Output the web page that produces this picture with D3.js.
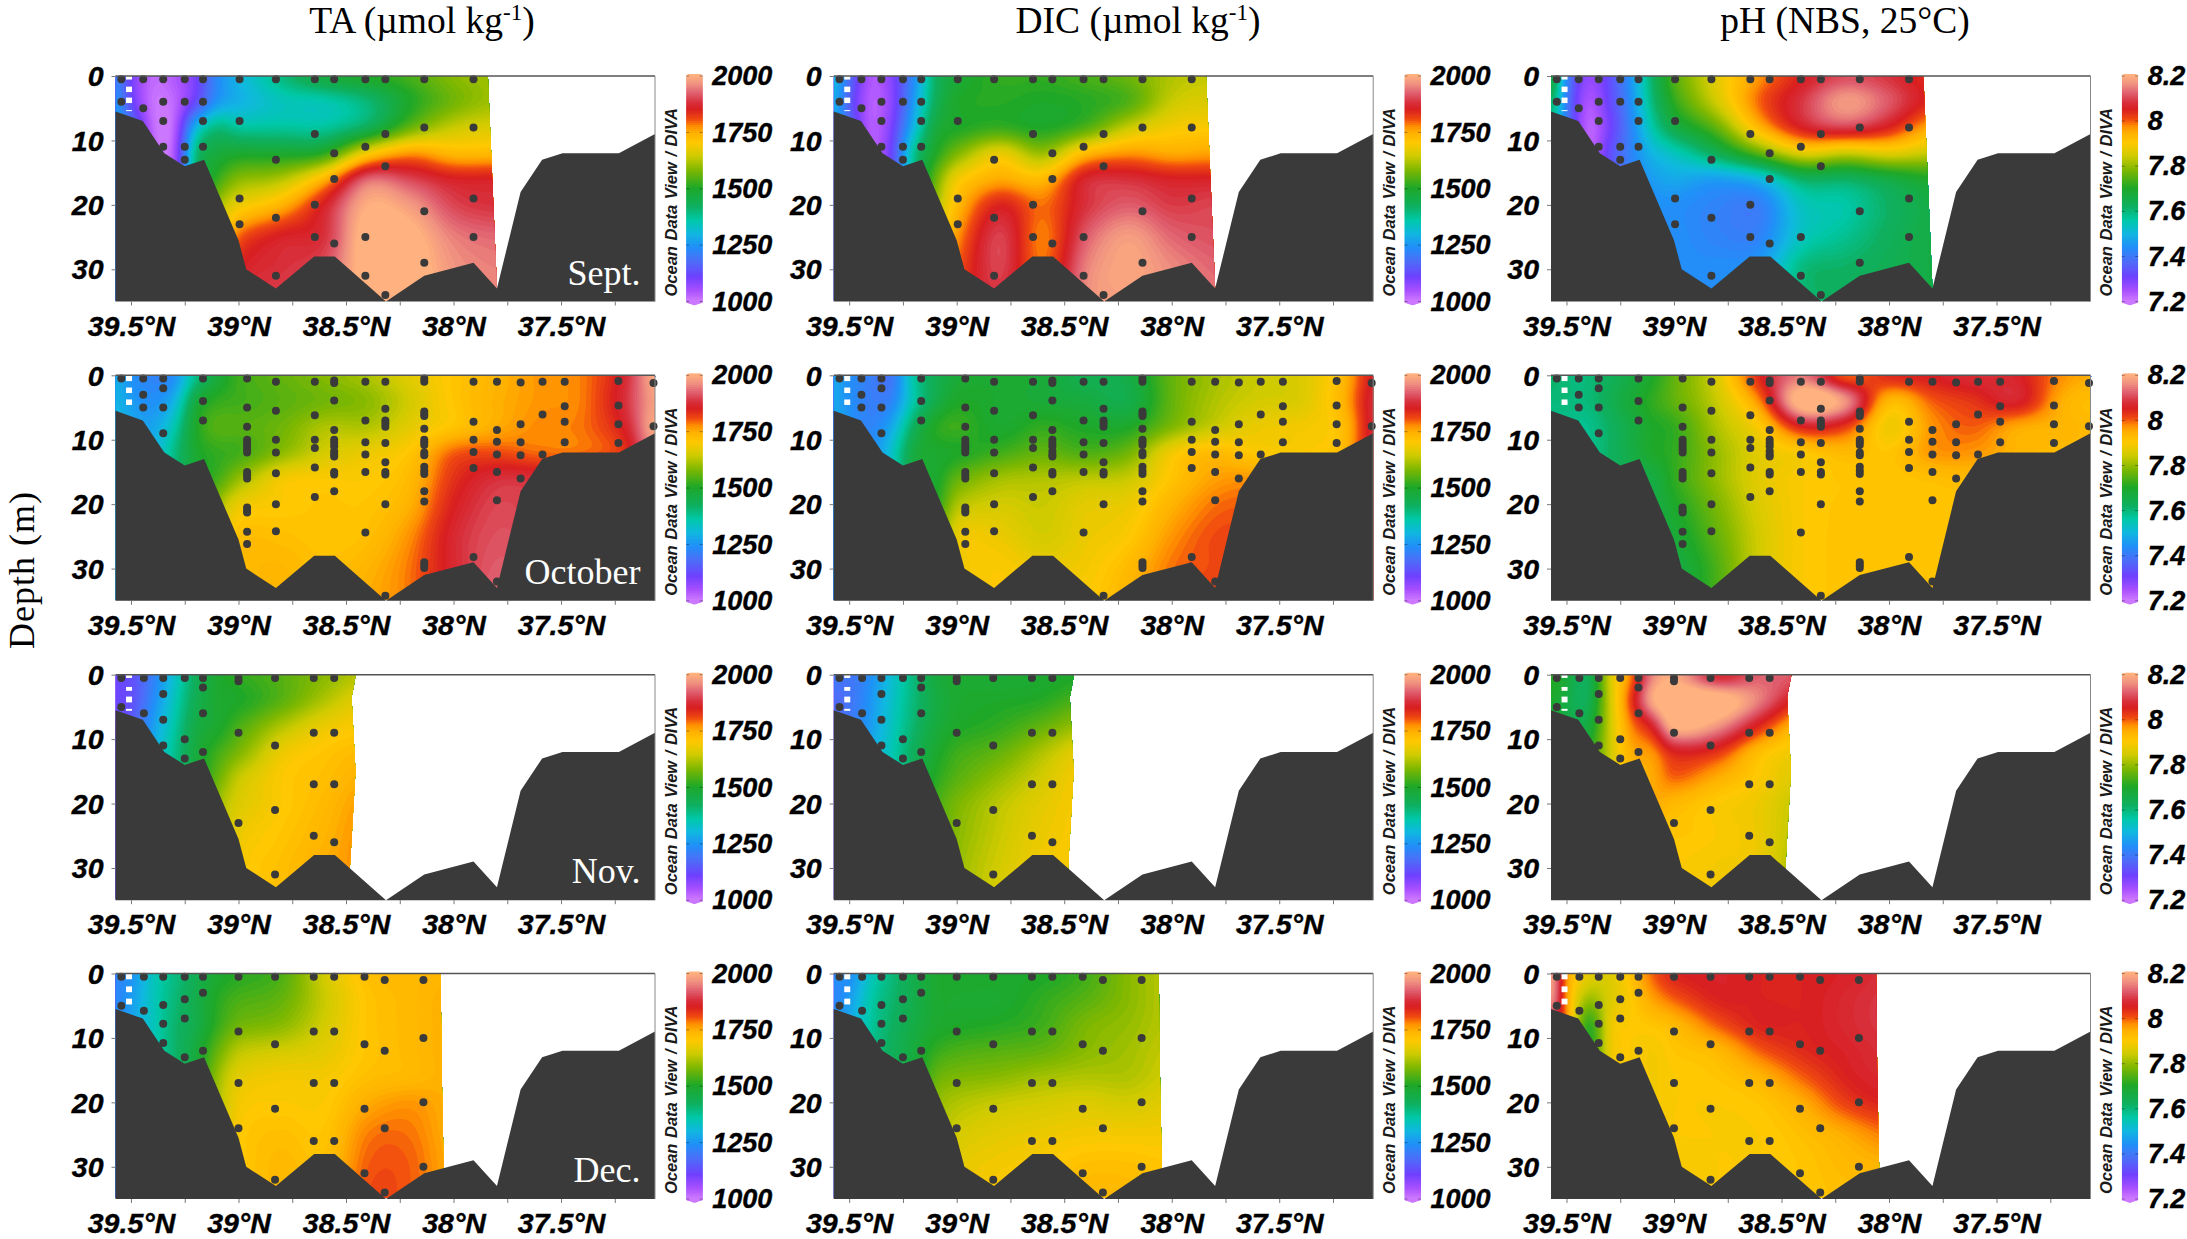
<!DOCTYPE html>
<html>
<head>
<meta charset="utf-8">
<script src="https://cdn.jsdelivr.net/npm/d3@7"></script>
<style>
  html, body { margin: 0; padding: 0; background: #fff; }
  svg { display: block; }
</style>
</head>
<body>
<div id="chart"></div>
<script>
// grid the sections were read on (latitude, depth)
const gridLat = [39.57, 39.5, 39.4, 39.3, 39.2, 39.1, 39.0, 38.8, 38.6, 38.4, 38.2, 38.0, 37.8, 37.6, 37.4, 37.2, 37.05];
const gridDepth = [0, 4, 8, 12, 16, 20, 25, 30, 35];

const months = ['Sept.', 'October', 'Nov.', 'Dec.'];
const titles = ['TA', 'DIC', 'pH'];
const alkTicks = [1000, 1250, 1500, 1750, 2000];
const phTicks = [7.2, 7.4, 7.6, 7.8, 8, 8.2];
const depthTicks = [0, 10, 20, 30];
const latTicks = [39.5, 39.25, 39, 38.75, 38.5, 38.25, 38, 37.75, 37.5, 37.25];

// sea floor
const floorLat = [39.572, 39.445, 39.345, 39.25, 39.16, 39.0, 38.964, 38.826, 38.648, 38.552, 38.314, 38.136, 37.907, 37.798, 37.688, 37.588, 37.493, 37.231, 37.063];
const floorDepth = [5.5, 7, 12, 14, 13, 25.5, 30, 33, 28, 28, 35, 31, 29, 33, 18, 13, 12, 12, 9];

// right hand limit of the gridded section, [lat, depth]
const sepEdge = [[37.84, 0], [37.83, 8], [37.798, 33], [37.798, 35]];
const octEdge = [[37.0, 0], [37.0, 35]];
const novEdge = [[38.454, 0], [38.474, 3.5], [38.456, 15], [38.482, 30], [38.482, 35]];
const decEdge = [[38.06, 0], [38.055, 15], [38.046, 30], [38.046, 35]];

// stations, [lat, depths]
const sepStations = [
  [39.545, [0.5, 4]], [39.443, [0.5, 5]], [39.35, [0.5, 4, 7, 11]], [39.25, [0.5, 4, 11, 13]],
  [39.165, [0.5, 4, 7, 11]], [38.995, [0.5, 7, 19, 23]], [38.826, [0.5, 13, 22, 31]],
  [38.645, [0.5, 9, 20, 25]], [38.555, [0.5, 12, 16, 26]], [38.41, [0.5, 11, 25, 31]],
  [38.317, [0.5, 9, 14, 34]], [38.136, [0.5, 8, 21, 29]], [37.907, [0.5, 8, 19, 25]]
];
const octStations = [
  [39.545, [0.5]], [39.443, [0.5, 3, 5]], [39.35, [0.5, 2, 5, 9]], [39.165, [0.5, 4, 7]],
  [38.96, [0.5, 5, 8, 10, 10.5, 11, 11.5, 12, 15, 15.5, 16, 20.5, 21, 21.3, 24.3, 26.2]],
  [38.826, [1, 5.5, 10, 12, 15.2, 20, 24.2]], [38.645, [1, 6.2, 10, 11.3, 14.3, 18.9]],
  [38.555, [0.8, 1.2, 3.9, 8.5, 10, 10.5, 11, 11.8, 12.3, 12.6, 15, 15.4, 18]],
  [38.41, [1, 7, 10.4, 12.3, 15, 24.4]],
  [38.317, [1, 5.2, 7, 7.5, 8, 10.5, 13.5, 15, 15.4, 20, 34.2]],
  [38.136, [0.5, 1, 5.6, 6, 6.3, 8.3, 10, 10.4, 10.8, 12, 12.4, 14.2, 14.8, 15.3, 18, 19.6, 29, 29.5, 29.9]],
  [37.907, [1, 7.2, 10, 11.9, 14.4, 28.2]], [37.798, [1, 8.5, 10.3, 12.3, 15, 19.4, 32]],
  [37.688, [1.1, 7.6, 10.4, 12.4, 16]], [37.586, [1, 6.1, 12.3]], [37.483, [1, 4.8, 7.2, 10.4]],
  [37.233, [0.9, 4.7, 7.6, 10.5]], [37.07, [1.2, 7.9]]
];
const novStations = [
  [39.545, [0.5, 5]], [39.44, [0.5, 6]], [39.35, [0.5, 3, 7, 11]], [39.25, [0.5, 10, 13]],
  [39.165, [0.5, 2, 6, 12]], [39.0, [0.5, 1, 9, 23]], [38.83, [0.5, 11, 21, 31]],
  [38.65, [0.5, 9, 17, 25]], [38.555, [0.5, 9, 17, 26]]
];
const decStations = [
  [39.545, [0.5, 5]], [39.44, [0.5, 5.8]], [39.35, [0.5, 4.9, 7.8, 10.8]], [39.25, [0.5, 4, 7, 13]],
  [39.165, [0.5, 3, 12]], [39.0, [0.5, 9, 17, 24]], [38.83, [0.5, 11, 21, 32]],
  [38.65, [0.5, 9, 17, 26]], [38.555, [0.5, 9, 17, 26]], [38.414, [0.5, 11, 21, 31]],
  [38.32, [1, 12, 24, 34]], [38.14, [1, 10, 20, 30]]
];

// white dashes near the head of the estuary, [from, to] in metres
const sepDash = [[0, 0.55], [1.65, 2.5], [3.35, 4.2], [5.3, 5.45]];
const octDash = [[0, 0.9], [1.9, 2.75], [3.75, 4.6]];
const novDash = [[0, 0.5], [1.9, 2.5], [3.4, 4.3], [5.3, 5.6]];
const decDash = [[0, 0.9], [2, 2.9], [3.9, 4.8]];

// sections, one row per gridDepth
const sepTA = [
  [1230,1100,1020,1040,1100,1230,1300,1400,1480,1510,1540,1590,1610],
  [1260,1120,1010,1020,1120,1250,1290,1340,1350,1400,1500,1570,1610],
  [1270,1200,1020,1020,1300,1400,1370,1370,1370,1430,1560,1640,1660],
  [1270,1200,1030,1030,1400,1470,1490,1490,1510,1690,1770,1730,1730],
  [1270,1200,1030,1030,1400,1520,1590,1620,1740,1930,1900,1860,1860],
  [1270,1200,1030,1030,1400,1600,1680,1740,1860,2000,1975,1900,1880],
  [1270,1200,1030,1030,1400,1650,1800,1860,1880,2030,2020,1950,1930],
  [1270,1200,1030,1030,1400,1700,1850,1880,1910,2030,2030,1970,1950],
  [1270,1200,1030,1030,1400,1700,1860,1900,1930,2030,2030,1980,1960]
];
const sepDIC = [
  [1320,1180,1040,1090,1230,1420,1480,1520,1520,1540,1570,1620,1640],
  [1300,1150,1030,1080,1260,1430,1500,1510,1500,1510,1540,1640,1660],
  [1300,1180,1030,1100,1300,1470,1500,1520,1500,1540,1640,1690,1700],
  [1300,1180,1030,1120,1380,1500,1580,1680,1600,1730,1770,1750,1760],
  [1300,1180,1030,1120,1380,1560,1690,1750,1730,1870,1880,1860,1860],
  [1300,1180,1030,1120,1380,1600,1730,1850,1790,1880,1920,1890,1900],
  [1300,1180,1030,1120,1380,1650,1770,1900,1780,1920,1980,1930,1910],
  [1300,1180,1030,1120,1380,1700,1800,1900,1790,1950,1990,1960,1930],
  [1300,1180,1030,1120,1380,1700,1820,1880,1800,1960,1980,1960,1940]
];
const sepPH = [
  [7.72,7.42,7.27,7.33,7.45,7.62,7.75,7.87,7.97,8.05,8.10,8.08,8.03],
  [7.65,7.40,7.24,7.32,7.44,7.60,7.72,7.85,8.00,8.09,8.18,8.12,8.04],
  [7.60,7.40,7.22,7.30,7.42,7.56,7.66,7.76,7.94,8.06,8.10,8.05,7.95],
  [7.60,7.40,7.22,7.33,7.42,7.50,7.54,7.64,7.76,7.87,7.84,7.87,7.84],
  [7.60,7.40,7.22,7.33,7.42,7.46,7.48,7.46,7.50,7.62,7.62,7.66,7.70],
  [7.60,7.40,7.22,7.33,7.42,7.44,7.44,7.42,7.41,7.54,7.56,7.62,7.66],
  [7.60,7.40,7.22,7.33,7.42,7.44,7.44,7.42,7.42,7.54,7.58,7.63,7.66],
  [7.60,7.40,7.22,7.33,7.42,7.44,7.44,7.44,7.46,7.60,7.62,7.64,7.66],
  [7.60,7.40,7.22,7.33,7.42,7.44,7.44,7.44,7.46,7.60,7.62,7.64,7.66]
];
const octTA = [
  [1290,1240,1220,1230,1380,1470,1530,1560,1590,1620,1670,1710,1740,1770,1785,1870,2010],
  [1300,1260,1240,1290,1470,1520,1530,1550,1570,1590,1650,1710,1745,1770,1785,1880,1990],
  [1310,1280,1270,1350,1500,1550,1550,1570,1620,1620,1670,1710,1750,1780,1790,1860,2010],
  [1310,1290,1290,1390,1490,1520,1530,1590,1650,1680,1710,1800,1810,1790,1790,1830,1980],
  [1310,1290,1290,1390,1480,1530,1600,1690,1700,1700,1730,1830,1880,1880,1880,1880,1950],
  [1310,1290,1290,1390,1480,1600,1680,1700,1710,1710,1745,1850,1900,1890,1890,1890,1950],
  [1310,1290,1290,1390,1480,1650,1720,1720,1710,1720,1775,1870,1910,1900,1900,1900,1950],
  [1310,1290,1290,1390,1480,1680,1725,1735,1720,1740,1790,1870,1920,1900,1900,1900,1950],
  [1310,1290,1290,1390,1480,1680,1725,1735,1725,1750,1790,1870,1930,1900,1900,1900,1950]
];
const octDIC = [
  [1280,1240,1210,1190,1370,1440,1480,1490,1480,1440,1460,1560,1610,1640,1660,1730,1870],
  [1280,1240,1210,1220,1360,1450,1500,1490,1480,1470,1450,1560,1620,1650,1660,1740,1890],
  [1290,1250,1220,1280,1430,1510,1530,1490,1520,1500,1500,1580,1640,1680,1690,1720,1890],
  [1310,1260,1240,1330,1470,1490,1500,1530,1560,1540,1570,1690,1730,1700,1700,1730,1890],
  [1310,1260,1240,1330,1470,1490,1560,1610,1620,1630,1640,1710,1760,1770,1750,1750,1890],
  [1310,1260,1240,1330,1470,1500,1620,1650,1640,1670,1680,1740,1790,1800,1800,1800,1890],
  [1310,1260,1240,1330,1470,1550,1680,1680,1650,1680,1700,1770,1810,1810,1800,1800,1890],
  [1310,1260,1240,1330,1470,1600,1680,1700,1680,1690,1730,1790,1810,1810,1800,1800,1890],
  [1310,1260,1240,1330,1470,1600,1680,1700,1690,1700,1740,1790,1820,1810,1800,1800,1890]
];
const octPH = [
  [7.62,7.60,7.60,7.63,7.66,7.70,7.76,7.86,8.05,8.13,7.98,8.05,8.06,8.08,8.06,7.98,7.95],
  [7.60,7.60,7.60,7.64,7.68,7.72,7.76,7.84,7.98,8.25,8.18,7.93,8.00,8.03,8.07,7.95,7.92],
  [7.58,7.58,7.58,7.62,7.66,7.70,7.72,7.82,7.90,8.05,8.02,7.88,7.97,8.00,7.95,7.94,7.93],
  [7.58,7.58,7.58,7.62,7.66,7.70,7.72,7.80,7.87,7.90,7.93,7.91,7.97,7.97,7.94,7.93,7.93],
  [7.58,7.58,7.58,7.62,7.64,7.66,7.72,7.80,7.87,7.90,7.91,7.91,7.92,7.93,7.92,7.92,7.92],
  [7.58,7.58,7.58,7.62,7.64,7.66,7.70,7.78,7.86,7.90,7.91,7.91,7.91,7.91,7.91,7.91,7.91],
  [7.58,7.58,7.58,7.62,7.64,7.66,7.68,7.76,7.85,7.90,7.91,7.91,7.91,7.91,7.91,7.91,7.91],
  [7.58,7.58,7.58,7.62,7.64,7.66,7.66,7.74,7.85,7.90,7.91,7.91,7.91,7.91,7.91,7.91,7.91],
  [7.58,7.58,7.58,7.62,7.64,7.66,7.66,7.74,7.85,7.90,7.91,7.91,7.91,7.91,7.91,7.91,7.91]
];
const novTA = [
  [1120,1130,1210,1320,1430,1490,1520,1550,1590,1630],
  [1120,1130,1230,1340,1440,1490,1500,1550,1620,1680],
  [1130,1150,1260,1360,1460,1490,1540,1620,1680,1700],
  [1150,1170,1280,1380,1470,1530,1580,1680,1710,1730],
  [1150,1170,1280,1380,1470,1560,1640,1700,1720,1750],
  [1150,1170,1280,1380,1470,1600,1660,1700,1730,1770],
  [1150,1170,1280,1380,1470,1600,1680,1710,1740,1780],
  [1150,1170,1280,1380,1470,1600,1690,1720,1750,1780],
  [1150,1170,1280,1380,1470,1600,1690,1720,1750,1780]
];
const novDIC = [
  [1210,1190,1240,1320,1400,1470,1490,1480,1490,1500],
  [1170,1190,1250,1330,1400,1460,1490,1500,1510,1550],
  [1180,1200,1260,1340,1410,1470,1500,1520,1560,1610],
  [1180,1200,1280,1350,1430,1490,1530,1560,1620,1680],
  [1180,1200,1280,1350,1430,1510,1550,1600,1650,1700],
  [1180,1200,1280,1350,1430,1530,1580,1630,1670,1700],
  [1180,1200,1280,1350,1430,1530,1590,1640,1680,1700],
  [1180,1200,1280,1350,1430,1540,1600,1650,1690,1700],
  [1180,1200,1280,1350,1430,1540,1600,1660,1690,1700]
];
const novPH = [
  [7.72,7.68,7.62,7.85,7.98,8.15,8.19,8.05,8.12,8.12],
  [7.70,7.66,7.63,7.84,8.02,8.20,8.25,8.25,8.15,8.03],
  [7.68,7.66,7.66,7.84,7.98,8.06,8.22,8.17,8.04,7.92],
  [7.68,7.66,7.70,7.84,7.95,7.97,8.05,8.03,7.92,7.88],
  [7.68,7.66,7.70,7.84,7.93,7.95,8.00,7.95,7.90,7.86],
  [7.68,7.66,7.70,7.84,7.93,7.95,7.93,7.90,7.88,7.83],
  [7.68,7.66,7.70,7.84,7.93,7.90,7.91,7.90,7.88,7.82],
  [7.68,7.66,7.70,7.84,7.93,7.90,7.90,7.89,7.88,7.80],
  [7.68,7.66,7.70,7.84,7.93,7.90,7.90,7.89,7.87,7.80]
];
const decTA = [
  [1230,1240,1340,1390,1440,1490,1510,1540,1650,1720,1730,1740],
  [1220,1260,1340,1400,1450,1510,1540,1560,1640,1710,1730,1750],
  [1250,1270,1340,1410,1450,1520,1570,1590,1650,1710,1730,1750],
  [1250,1280,1340,1410,1470,1560,1630,1650,1670,1710,1730,1750],
  [1250,1280,1340,1410,1470,1600,1670,1690,1690,1720,1730,1750],
  [1250,1280,1340,1410,1470,1610,1690,1700,1700,1750,1770,1745],
  [1250,1280,1340,1410,1470,1620,1700,1720,1710,1785,1790,1745],
  [1250,1280,1340,1410,1470,1620,1700,1730,1720,1800,1800,1750],
  [1250,1280,1340,1410,1470,1620,1700,1730,1730,1810,1800,1750]
];
const decDIC = [
  [1250,1230,1340,1400,1450,1490,1500,1500,1500,1530,1590,1630],
  [1220,1260,1360,1410,1450,1490,1490,1490,1520,1550,1590,1630],
  [1270,1280,1370,1420,1460,1490,1500,1510,1530,1580,1600,1630],
  [1270,1300,1380,1430,1470,1520,1540,1550,1560,1590,1610,1640],
  [1270,1300,1380,1430,1470,1560,1580,1590,1610,1620,1620,1650],
  [1270,1300,1380,1430,1470,1590,1620,1640,1650,1660,1650,1670],
  [1270,1300,1380,1430,1470,1600,1650,1670,1680,1690,1690,1690],
  [1270,1300,1380,1430,1470,1610,1670,1690,1700,1720,1720,1710],
  [1270,1300,1380,1430,1470,1610,1680,1700,1710,1730,1730,1720]
];
const decPH = [
  [8.22,7.96,7.88,7.86,7.92,8.00,8.05,8.06,8.05,8.05,8.06,8.08],
  [8.20,7.96,7.80,7.86,7.90,7.96,8.00,8.05,8.05,8.05,8.07,8.09],
  [8.10,7.98,7.70,7.88,7.90,7.91,7.93,8.00,8.05,8.05,8.07,8.09],
  [8.05,7.98,7.70,7.88,7.90,7.89,7.91,7.93,8.00,8.04,8.06,8.08],
  [8.05,7.98,7.76,7.88,7.90,7.89,7.90,7.91,7.94,8.00,8.05,8.07],
  [8.05,7.98,7.76,7.88,7.90,7.89,7.90,7.90,7.91,7.95,8.02,8.05],
  [8.05,7.98,7.76,7.88,7.90,7.89,7.90,7.90,7.90,7.92,7.95,7.99],
  [8.05,7.98,7.76,7.88,7.90,7.89,7.89,7.90,7.90,7.91,7.93,7.94],
  [8.05,7.98,7.76,7.88,7.90,7.89,7.89,7.90,7.90,7.91,7.92,7.93]
];

const sections = [
  [sepTA, sepDIC, sepPH],
  [octTA, octDIC, octPH],
  [novTA, novDIC, novPH],
  [decTA, decDIC, decPH]
];
const stations = [sepStations, octStations, novStations, decStations];
const edges = [sepEdge, octEdge, novEdge, decEdge];
const dashes = [sepDash, octDash, novDash, decDash];

const width = 2187;
const height = 1239;
const colLeft = [115.5, 833.7, 1551];
const rowTop = [76, 375.3, 674.7, 973.5];
const panelW = 539.5;
const panelH = 225.5;
const dark = '#3a3a3a';
const sansFont = '"Liberation Sans", Arial, sans-serif';
const serifFont = '"Liberation Serif", "Times New Roman", serif';

// ODV colour bar, position 0..1 up the bar
const rampPos = [0, 0.045, 0.104, 0.178, 0.238, 0.298, 0.357, 0.417, 0.5, 0.58, 0.64, 0.7, 0.744, 0.774, 0.803, 0.848, 0.878, 0.92, 0.957, 1];
const rampCol = ['#cc77ff', '#a850ff', '#7040ff', '#4a70f8', '#2090f8', '#10b8e0', '#00c8a8', '#0eb060', '#1fa828', '#80b800', '#cfcb00', '#ffc800', '#ffb000', '#ff8c00', '#f04a10', '#d81e20', '#d8303c', '#e06070', '#ef8f80', '#ffb27f'];
const ramp = d3.scaleLinear().domain(rampPos).range(rampCol).interpolate(d3.interpolateRgb).clamp(true);

const svg = d3.select('#chart').append('svg').attr('width', width).attr('height', height)
  .attr('viewBox', [0, 0, width, height]);
const defs = svg.append('defs');

const latToGrid = d3.scaleLinear().domain(gridLat).range(d3.range(gridLat.length)).clamp(true);
const depthToGrid = d3.scaleLinear().domain(gridDepth).range(d3.range(gridDepth.length)).clamp(true);

const cubic = (a, b, c, d, t) =>
  b + 0.5 * t * (c - a + t * (2 * a - 5 * b + 4 * c - d + t * (3 * (b - c) + d - a)));

function sampleRow(row, u) {
  const n = row.length - 1;
  const uu = Math.min(u, n);
  const i = Math.min(Math.floor(uu), n - 1);
  return cubic(row[Math.max(i - 1, 0)], row[i], row[i + 1], row[Math.min(i + 2, n)], uu - i);
}

function drawField(g, matrix, x, y, valueToPos) {
  const step = 2;
  const nx = Math.ceil(panelW / step);
  const ny = Math.ceil(panelH / step);
  const values = new Float64Array(nx * ny);
  for (let j = 0; j < ny; j++) {
    const v = Math.min(depthToGrid(y.invert((j + 0.5) * step)), gridDepth.length - 1);
    const vi = Math.min(Math.floor(v), gridDepth.length - 2);
    const r0 = matrix[Math.max(vi - 1, 0)], r1 = matrix[vi], r2 = matrix[vi + 1], r3 = matrix[Math.min(vi + 2, gridDepth.length - 1)];
    for (let i = 0; i < nx; i++) {
      const u = latToGrid(x.invert((i + 0.5) * step));
      values[j * nx + i] = cubic(sampleRow(r0, u), sampleRow(r1, u), sampleRow(r2, u), sampleRow(r3, u), v - vi);
    }
  }
  if (d3.blur2) d3.blur2({data: values, width: nx, height: ny}, 2);

  const levels = d3.range(0, 121).map(k => k / 120);
  const domain = valueToPos.domain();
  const contours = d3.contours().size([nx, ny])
    .thresholds(levels.map((t, k) => k === 0 ? -1e9 : domain[0] + t * (domain[1] - domain[0])));
  const path = d3.geoPath();
  g.append('g')
    .attr('transform', `scale(${panelW / nx},${panelH / ny})`)
    .selectAll('path')
    .data(contours(Array.from(values)))
    .join('path')
    .attr('d', path)
    .attr('fill', (d, k) => ramp(levels[k]));
}

const labelStyle = (sel, size) => sel
  .attr('font-family', sansFont).attr('font-size', size)
  .attr('font-weight', 'bold').attr('font-style', 'italic').attr('fill', '#000')
  .attr('stroke', '#000').attr('stroke-width', 0.4);

titles.forEach((name, c) => {
  const isPH = name === 'pH';
  const barTicks = isPH ? phTicks : alkTicks;
  const valueToPos = d3.scaleLinear().domain(d3.extent(barTicks)).range([0, 1]);

  months.forEach((month, r) => {
    const left = colLeft[c];
    const top = rowTop[r];
    const x = d3.scaleLinear().domain([39.572, 37.063]).range([0, panelW]);
    const y = d3.scaleLinear().domain([0, 35]).range([0, panelH]);
    const g = svg.append('g').attr('transform', `translate(${left},${top})`);

    // water column, cut at the section's right limit
    const clipId = `clip-${r}-${c}`;
    const edge = edges[r];
    const outline = [[39.572, 0], ...edge, [39.572, 35]];
    defs.append('clipPath').attr('id', clipId).append('path')
      .attr('d', d3.line().x(d => x(d[0])).y(d => y(d[1]) - (d[1] === 35 ? 1 : 0))(outline) + 'Z');
    const field = g.append('g').attr('clip-path', `url(#${clipId})`);
    drawField(field, sections[r][c], x, y, valueToPos);

    // white dashes
    g.append('g').selectAll('rect').data(dashes[r]).join('rect')
      .attr('x', x(39.509) - 3).attr('width', 6)
      .attr('y', d => y(d[0])).attr('height', d => y(d[1]) - y(d[0]))
      .attr('fill', '#fff');

    // sea floor
    const area = d3.area().x(d => x(d[0])).y0(y(35)).y1(d => y(d[1]));
    g.append('path').datum(floorLat.map((lat, i) => [lat, floorDepth[i]]))
      .attr('d', area).attr('fill', dark);

    // stations
    g.append('g').selectAll('circle')
      .data(stations[r].flatMap(s => s[1].map(depth => [s[0], depth])))
      .join('circle')
      .attr('cx', d => x(d[0])).attr('cy', d => y(d[1])).attr('r', 4)
      .attr('fill', dark);

    // frame
    g.append('line').attr('x1', 0).attr('x2', panelW).attr('y1', 0).attr('y2', 0)
      .attr('stroke', '#555').attr('stroke-width', 1.6);
    g.append('line').attr('x1', panelW).attr('x2', panelW).attr('y1', 0).attr('y2', panelH)
      .attr('stroke', '#888').attr('stroke-width', 1);

    // axes
    const xAxis = g.append('g').attr('transform', `translate(0,${panelH})`)
      .call(d3.axisBottom(x).tickValues(latTicks).tickSize(4)
        .tickFormat(d => (d * 2) % 1 === 0 ? `${d}°N` : ''));
    xAxis.select('.domain').remove();
    xAxis.selectAll('line').attr('stroke', '#777');
    xAxis.selectAll('text').attr('y', 34).attr('dy', 0).call(labelStyle, 28.5);

    const yAxis = g.append('g')
      .call(d3.axisLeft(y).tickValues(depthTicks).tickSize(4).tickFormat(d3.format('d')));
    yAxis.select('.domain').remove();
    yAxis.selectAll('line').attr('stroke', '#777');
    yAxis.selectAll('text').attr('x', -12).attr('dy', '0.34em').call(labelStyle, 28.5);

    if (c === 0) {
      g.append('text').attr('x', 525).attr('y', panelH - 17)
        .attr('text-anchor', 'end').attr('fill', '#fff')
        .attr('font-family', serifFont).attr('font-size', 36)
        .text(month);
    }

    // colour bar
    const bar = g.append('g').attr('transform', 'translate(570.7,0)');
    const barY = d3.scaleLinear().domain(d3.extent(barTicks)).range([panelH, 0]);
    const barW = 16.5;
    const tip = 3;
    const barClip = `bar-${r}-${c}`;
    defs.append('clipPath').attr('id', barClip).append('path')
      .attr('d', d3.line()([[0, -1], [barW / 2, -tip - 1], [barW, -1], [barW, panelH + 1], [barW / 2, panelH + tip + 1], [0, panelH + 1]]) + 'Z');
    const barG = bar.append('g').attr('clip-path', `url(#${barClip})`);
    const bands = d3.range(0, 116).map(k => k / 115);
    barG.selectAll('rect').data(bands).join('rect')
      .attr('x', 0).attr('width', barW)
      .attr('y', t => panelH * (1 - t) - 2).attr('height', panelH / 115 + 4)
      .attr('fill', t => ramp(t));
    barG.selectAll('rect').sort((a, b) => d3.descending(a, b));
    bar.selectAll('.cap').data(barTicks).join('g').attr('class', 'cap').each(function (v) {
      d3.select(this).selectAll('line').data([0, barW - 3]).join('line')
        .attr('x1', d => d).attr('x2', d => d + 3)
        .attr('y1', barY(v)).attr('y2', barY(v))
        .attr('stroke', '#000').attr('stroke-opacity', 0.35);
    });
    bar.selectAll('text.tick').data(barTicks).join('text').attr('class', 'tick')
      .attr('x', 26).attr('y', v => barY(v)).attr('dy', '0.34em')
      .call(labelStyle, 27)
      .text(v => d3.format('~g')(v));

    bar.append('text')
      .attr('transform', `translate(${-9.5},${panelH - 5}) rotate(-90)`)
      .attr('font-family', sansFont).attr('font-size', 16.5)
      .attr('font-weight', 'bold').attr('font-style', 'italic').attr('fill', '#1a1a1a')
      .attr('style', 'word-spacing:1px')
      .text('Ocean Data View / DIVA');
  });
});

// column titles
const titleY = 33;
const titleX = [422, 1138, 1845];
const titleText = svg.append('g').attr('font-family', serifFont).attr('font-size', 37.5)
  .attr('text-anchor', 'middle').attr('fill', '#000');
[['TA (µmol kg', '-1', ')'], ['DIC (µmol kg', '-1', ')'], ['pH (NBS, 25°C)', '', '']].forEach((t, i) => {
  const el = titleText.append('text').attr('x', titleX[i]).attr('y', titleY);
  el.append('tspan').text(t[0]);
  if (t[1]) {
    el.append('tspan').attr('font-size', 23).attr('dy', -13).text(t[1]);
    el.append('tspan').attr('dy', 13).text(t[2]);
  }
});

svg.append('text')
  .attr('transform', 'translate(34,570) rotate(-90)')
  .attr('text-anchor', 'middle')
  .attr('font-family', serifFont).attr('font-size', 36).attr('letter-spacing', 1).attr('fill', '#000')
  .text('Depth (m)');
</script>
</body>
</html>
